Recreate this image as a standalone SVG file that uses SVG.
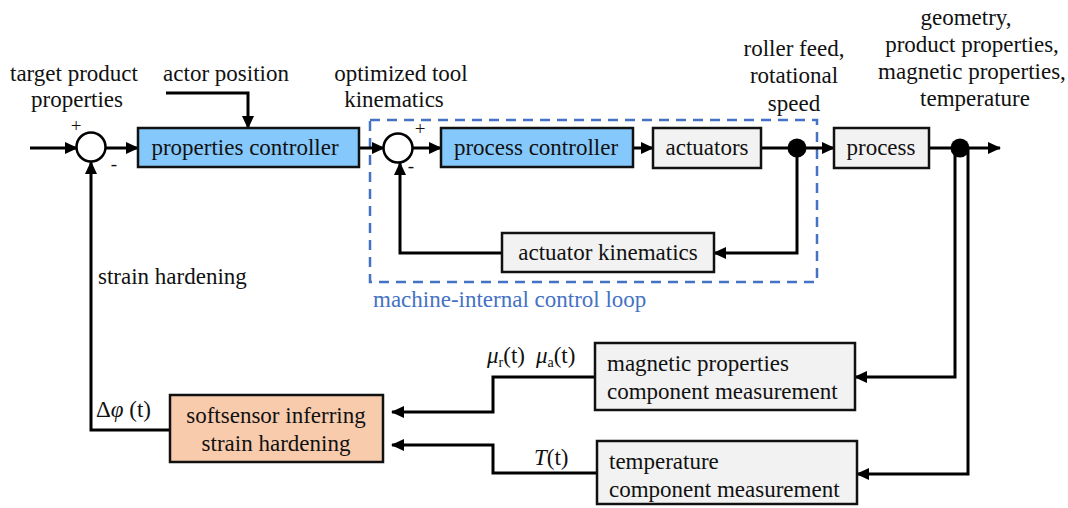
<svg xmlns="http://www.w3.org/2000/svg" width="1068" height="508" viewBox="0 0 1068 508" font-family="'Liberation Serif', 'DejaVu Serif', serif" font-size="23">
<style>
text{font-family:'Liberation Serif','Times New Roman',serif;font-size:23px;fill:#111}
.box{stroke:#111;stroke-width:2.5}
.gray{fill:#f2f2f2}
.blue{fill:#85c8fc}
.orange{fill:#f8cbad}
.ln{fill:none;stroke:#000;stroke-width:3}
.arr{marker-end:url(#ah)}
.c{text-anchor:middle}
.sg{font-size:19px}
</style>
<defs>
<marker id="ah" markerUnits="userSpaceOnUse" markerWidth="13" markerHeight="12" refX="12" refY="6" orient="auto">
<path d="M0,0 L13,6 L0,12 z" fill="#000"/>
</marker>
</defs>
<rect width="1068" height="508" fill="#fff"/>

<g id="loop-frame">
<rect x="370" y="120" width="447" height="162" fill="none" stroke="#4472c4" stroke-width="2.5" stroke-dasharray="10,7"/>
<text x="373" y="307" style="fill:#4472c4">machine-internal control loop</text>
</g>

<g id="connectors">
<path class="ln arr" d="M30,148 H77"/>
<path class="ln arr" d="M105,148 H138"/>
<path class="ln arr" d="M166,93 H248 V128"/>
<path class="ln arr" d="M359,148 H384"/>
<path class="ln arr" d="M413,148 H441"/>
<path class="ln arr" d="M633,148 H653"/>
<path class="ln" d="M761,148 H797"/>
<path class="ln arr" d="M797,148 V253 H714"/>
<path class="ln arr" d="M797,148 H834"/>
<path class="ln arr" d="M502,253 H400 V163"/>
<path class="ln" d="M929,148 H960"/>
<path class="ln arr" d="M960,148 H1000"/>
<path class="ln arr" d="M955,148 V377 H855"/>
<path class="ln arr" d="M968,148 V474 H857"/>
<path class="ln arr" d="M595,377 H493 V412 H392"/>
<path class="ln arr" d="M597,473 H493 V445 H392"/>
<path class="ln arr" d="M170,430 H91 V162"/>
<circle cx="797" cy="148" r="9.5" fill="#000"/>
<circle cx="960" cy="148" r="9.5" fill="#000"/>
</g>

<g id="sum1">
<circle cx="91" cy="147" r="14.5" fill="#fff" stroke="#000" stroke-width="2.5"/>
<text x="76" y="132" class="c sg">+</text>
<text x="114" y="170" class="c sg">-</text>
</g>
<g id="sum2">
<circle cx="398" cy="148" r="14.5" fill="#fff" stroke="#000" stroke-width="2.5"/>
<text x="420" y="135" class="c sg">+</text>
<text x="411" y="172" class="c sg">-</text>
</g>

<g id="properties-controller">
<rect class="box blue" x="138" y="128" width="221" height="39"/>
<text x="245" y="155" class="c">properties controller</text>
</g>
<g id="process-controller">
<rect class="box blue" x="441" y="128" width="192" height="39"/>
<text x="536" y="155" class="c">process controller</text>
</g>
<g id="actuators">
<rect class="box gray" x="653" y="128" width="108" height="40"/>
<text x="707" y="155" class="c">actuators</text>
</g>
<g id="process">
<rect class="box gray" x="834" y="128" width="95" height="40"/>
<text x="881" y="155" class="c">process</text>
</g>
<g id="actuator-kinematics">
<rect class="box gray" x="502" y="233" width="212" height="39"/>
<text x="608" y="260" class="c">actuator kinematics</text>
</g>
<g id="magnetic-measurement">
<rect class="box gray" x="595" y="343" width="260" height="67"/>
<text x="607" y="371">magnetic properties</text>
<text x="607" y="399">component measurement</text>
</g>
<g id="temperature-measurement">
<rect class="box gray" x="597" y="441" width="260" height="63"/>
<text x="609" y="469">temperature</text>
<text x="609" y="497">component measurement</text>
</g>
<g id="softsensor">
<rect class="box orange" x="170" y="395" width="213" height="67"/>
<text x="276" y="423" class="c">softsensor inferring</text>
<text x="276" y="451" class="c">strain hardening</text>
</g>

<g id="labels">
<text x="74" y="81" class="c">target product</text>
<text x="77" y="107" class="c">properties</text>
<text x="226" y="81" class="c">actor position</text>
<text x="401" y="81" class="c">optimized tool</text>
<text x="394" y="107" class="c">kinematics</text>
<text x="794" y="56" class="c">roller feed,</text>
<text x="794" y="83" class="c">rotational</text>
<text x="794" y="111" class="c">speed</text>
<text x="966" y="25" class="c">geometry,</text>
<text x="972" y="52" class="c">product properties,</text>
<text x="972" y="79" class="c">magnetic properties,</text>
<text x="975" y="106" class="c">temperature</text>
<text x="98" y="284">strain hardening</text>
<text x="96" y="417">Δ<tspan font-style="italic">φ</tspan> (t)</text>
<text x="487" y="363"><tspan font-style="italic">μ</tspan><tspan font-size="14" dy="4">r</tspan><tspan dy="-4">(t)</tspan><tspan font-style="italic" dx="11">μ</tspan><tspan font-size="14" dy="4">a</tspan><tspan dy="-4">(t)</tspan></text>
<text x="534" y="465"><tspan font-style="italic">T</tspan>(t)</text>
</g>
</svg>
